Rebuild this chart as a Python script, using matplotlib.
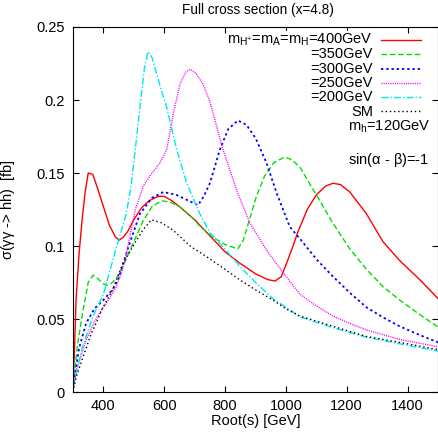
import matplotlib.pyplot as plt

plt.rcParams['font.family'] = ['Liberation Sans', 'DejaVu Sans']
plt.rcParams['mathtext.fontset'] = 'custom'
plt.rcParams['mathtext.rm'] = 'Liberation Sans'
plt.rcParams['mathtext.it'] = 'Liberation Sans'
plt.rcParams['mathtext.sf'] = 'Liberation Sans'

# curves (Root(s) in GeV, sigma in fb)
x_400 = [300, 305, 310, 320, 330, 340, 350, 365, 380, 400, 420, 440, 452, 465, 480, 500,
         525, 550, 580, 600, 625, 650, 700, 750, 800, 850, 900, 940, 964, 985, 1000,
         1020, 1040, 1070, 1100, 1130, 1155, 1180, 1210, 1265, 1319, 1374, 1440, 1500]
y_400 = [0.003, 0.030, 0.063, 0.095, 0.118, 0.137, 0.150, 0.149, 0.140, 0.127, 0.114,
         0.106, 0.104, 0.106, 0.110, 0.118, 0.126, 0.131, 0.134, 0.134, 0.131, 0.127,
         0.118, 0.107, 0.096, 0.088, 0.081, 0.077, 0.076, 0.079, 0.087, 0.098, 0.110,
         0.125, 0.135, 0.141, 0.143, 0.142, 0.137, 0.122, 0.103, 0.090, 0.077, 0.064]

x_350 = [300, 316, 333, 350, 366, 380, 400, 413, 430, 450, 464, 500, 530, 560, 591, 620,
         650, 684, 720, 760, 800, 842, 860, 880, 903, 930, 960, 996, 1020, 1046, 1100,
         1155, 1210, 1265, 1320, 1374, 1440, 1500]
y_350 = [0.005, 0.034, 0.056, 0.075, 0.080, 0.078, 0.074, 0.073, 0.075, 0.080, 0.086,
         0.103, 0.117, 0.127, 0.131, 0.130, 0.127, 0.121, 0.113, 0.106, 0.101, 0.098,
         0.104, 0.118, 0.134, 0.148, 0.157, 0.161, 0.159, 0.154, 0.135, 0.1155, 0.098,
         0.084, 0.072, 0.063, 0.053, 0.0445]

x_300 = [300, 320, 343, 370, 400, 430, 450, 480, 520, 560, 597, 640, 680, 711, 730, 750,
         783, 810, 842, 870, 900, 936, 970, 1013, 1046, 1100, 1155, 1210, 1265, 1320,
         1374, 1440, 1500]
y_300 = [0.003, 0.030, 0.047, 0.057, 0.063, 0.070, 0.078, 0.098, 0.122, 0.133, 0.137,
         0.135, 0.131, 0.128, 0.134, 0.143, 0.166, 0.180, 0.186, 0.183, 0.174, 0.157,
         0.136, 0.113, 0.105, 0.091, 0.079, 0.068, 0.058, 0.051, 0.045, 0.039, 0.034]

x_250 = [300, 311, 344, 370, 399, 420, 442, 460, 475, 490, 505, 531, 560, 586, 608, 630,
         652, 670, 686, 705, 727, 750, 793, 840, 881, 940, 990, 1046, 1100, 1155, 1210,
         1265, 1374, 1500]
y_250 = [0.002, 0.015, 0.036, 0.048, 0.058, 0.064, 0.072, 0.082, 0.094, 0.110, 0.125,
         0.141, 0.150, 0.157, 0.166, 0.191, 0.211, 0.219, 0.221, 0.218, 0.211, 0.199,
         0.166, 0.137, 0.116, 0.096, 0.082, 0.067, 0.059, 0.052, 0.047, 0.0425, 0.036,
         0.031]

x_200 = [300, 330, 366, 400, 420, 443, 460, 476, 490, 498, 510, 520, 535, 547, 560, 575,
         590, 608, 625, 641, 674, 717, 750, 793, 849, 900, 957, 1000, 1046, 1155, 1265,
         1374, 1500]
y_200 = [0.003, 0.030, 0.052, 0.067, 0.082, 0.0995, 0.111, 0.123, 0.140, 0.154, 0.176,
         0.195, 0.222, 0.233, 0.229, 0.218, 0.207, 0.195, 0.180, 0.166, 0.143, 0.122,
         0.109, 0.0995, 0.086, 0.075, 0.064, 0.058, 0.0515, 0.044, 0.0375, 0.033, 0.028]

x_sm = [300, 310, 333, 360, 399, 430, 464, 500, 530, 558, 590, 628, 688, 739, 800, 849,
        900, 957, 1000, 1046, 1155, 1265, 1374, 1500]
y_sm = [0.0, 0.010, 0.024, 0.040, 0.058, 0.070, 0.088, 0.101, 0.111, 0.118, 0.116,
        0.111, 0.0995, 0.0927, 0.084, 0.0767, 0.070, 0.063, 0.057, 0.052, 0.045, 0.038,
        0.034, 0.029]

labels = [r'm$_{\mathrm{H^{+}}}$=m$_\mathrm{A}$=m$_\mathrm{H}$=400GeV',
          '=350GeV', '=300GeV', '=250GeV', '=200GeV', 'SM']
colors = ['#ff0000', '#00e000', '#0000ff', '#ff00ff', '#00e5ee', '#000000']
dashes = [(None, None), (4, 2), (1.3, 1.6), (0.8, 0.8), (5, 1.5, 1, 1.5), (1, 2)]
widths = [1.0, 1.0, 1.3, 1.0, 1.0, 1.0]
xs = [x_400, x_350, x_300, x_250, x_200, x_sm]
ys = [y_400, y_350, y_300, y_250, y_200, y_sm]

fs = 10.5

fig = plt.figure(figsize=(4.39, 4.36), dpi=100)
ax = fig.add_axes([73 / 439, 1 - 392 / 436, 365 / 439, 365 / 436])

for i in range(len(labels)):
    line, = ax.plot(xs[i], ys[i], color=colors[i], lw=widths[i])
    if dashes[i][0] is not None:
        line.set_dashes(dashes[i])
    # legend row, gnuplot style: text right-aligned, sample to its right
    row = 40 + 14.3 * i
    ax.text((373 - 73) / 365, (392 - row - 4) / 365, labels[i], transform=ax.transAxes,
            ha='right', va='baseline', fontsize=fs,
            bbox=dict(facecolor='white', edgecolor='none', pad=0.5))
    sample, = ax.plot([(381 - 73) / 365, (421 - 73) / 365], [(392 - row) / 365] * 2,
                      transform=ax.transAxes, color=colors[i], lw=widths[i])
    if dashes[i][0] is not None:
        sample.set_dashes(dashes[i])

ax.text((348 - 73) / 365, (392 - 131) / 365, r'm$_\mathrm{h}$=120GeV', transform=ax.transAxes,
        ha='left', va='baseline', fontsize=fs)
ax.text((348 - 73) / 365, (392 - 164) / 365, r'sin($\alpha$ - $\beta$)=-1', transform=ax.transAxes,
        ha='left', va='baseline', fontsize=fs)

ax.set_xlim(300, 1500)
ax.set_ylim(0, 0.25)
ax.set_xticks([400, 600, 800, 1000, 1200, 1400])
ax.set_yticks([0, 0.05, 0.1, 0.15, 0.2, 0.25])
ax.set_yticklabels(['0', '0.05', '0.1', '0.15', '0.2', '0.25'])
ax.tick_params(direction='in', length=4, width=0.8, top=True, right=True, labelsize=fs)
ax.tick_params(axis='x', pad=5)
ax.tick_params(axis='y', pad=6)

ax.set_xlabel('Root(s) [GeV]', fontsize=fs)
ax.xaxis.set_label_coords(0.5, (392 - 414) / 365)
ax.set_ylabel(r'$\sigma$($\gamma\gamma$ -> hh)  [fb]', fontsize=fs)
ax.yaxis.set_label_coords((17 - 73) / 365, 0.5)

fig.text(258 / 439, 1 - 10 / 436, 'Full cross section (x=4.8)', ha='center', va='center',
         fontsize=9.8)

fig.savefig('out.png', dpi=100)
